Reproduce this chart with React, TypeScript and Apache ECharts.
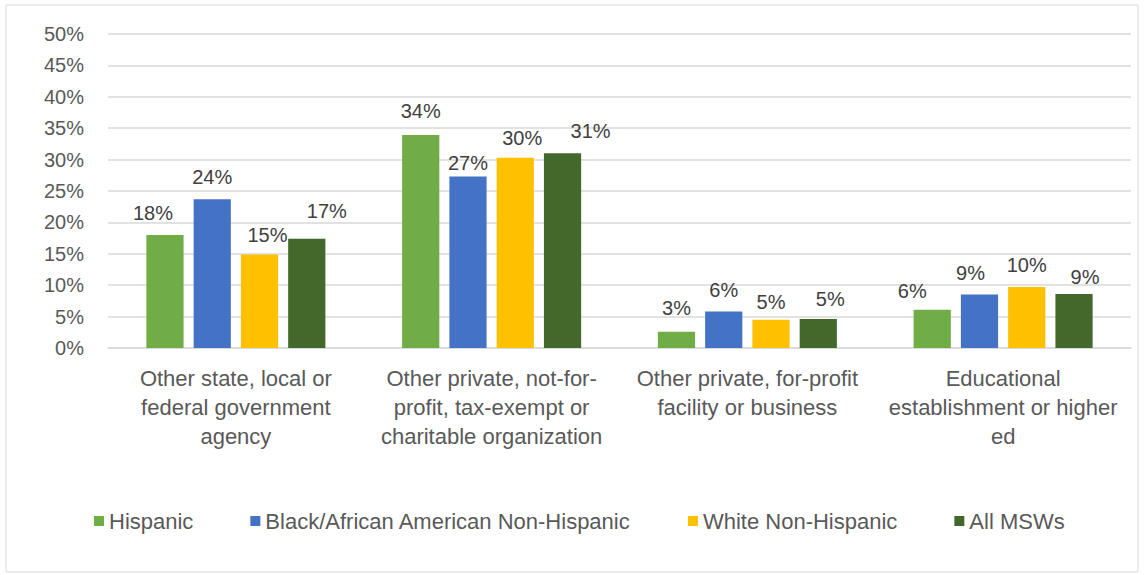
import React, { useEffect, useRef } from "react";
import * as echarts from "echarts";

const categories = [
  "Other state, local or\nfederal government\nagency",
  "Other private, not-for-\nprofit, tax-exempt or\ncharitable organization",
  "Other private, for-profit\nfacility or business",
  "Educational\nestablishment or higher\ned",
];
const seriesNames = [
  "Hispanic",
  "Black/African American Non-Hispanic",
  "White Non-Hispanic",
  "All MSWs",
];
const hispanic = [18.0, 33.9, 2.6, 6.1];
const black = [23.7, 27.3, 5.8, 8.5];
const white = [14.9, 30.3, 4.5, 9.7];
const allMsw = [17.4, 31.0, 4.6, 8.6];
const yTicks = [0, 5, 10, 15, 20, 25, 30, 35, 40, 45, 50];

const colors = ["#70AD47", "#4472C4", "#FFC000", "#43682B"];
// label nudges [dx, dy] per series per category (styling only)
const labelNudges: number[][][] = [
  [[-12, 0], [0, -2], [0, -2], [-20, 3]],
  [[0, 0], [0, 8], [0, 0], [-9, 0]],
  [[8, 3], [7, 2], [0, 4], [0, 0]],
  [[20, -6], [28, 0], [12, 2], [11, 5]],
];

const FONT = "'Liberation Sans', Arial, sans-serif";

export default function App() {
  const ref = useRef<HTMLDivElement>(null);
  useEffect(() => {
    document.body.style.margin = "0";
    if (!ref.current) return;
    const chart = echarts.init(ref.current, undefined, { renderer: "svg" });
    const data = [hispanic, black, white, allMsw];
    chart.setOption({
      animation: false,
      textStyle: { fontFamily: FONT },
      graphic: [
        {
          type: "rect",
          shape: { x: 6, y: 5, width: 1132, height: 567 },
          style: { fill: "none", stroke: "#d9d9d9", lineWidth: 1 },
          silent: true,
        },
      ],
      legend: {
        data: seriesNames,
        bottom: 38,
        left: 89,
        itemWidth: 10,
        itemHeight: 10,
        itemGap: 57,
        icon: "rect",
        textStyle: { fontSize: 22, color: "#595959", fontFamily: FONT },
      },
      grid: { left: 108, right: 13, top: 34, bottom: 227 },
      xAxis: {
        type: "category",
        data: categories,
        axisLine: { lineStyle: { color: "#d9d9d9", width: 1.5 } },
        axisTick: { show: false },
        axisLabel: {
          fontSize: 22,
          color: "#595959",
          lineHeight: 29,
          margin: 16,
          interval: 0,
          fontFamily: FONT,
        },
      },
      yAxis: {
        type: "value",
        min: yTicks[0],
        max: yTicks[yTicks.length - 1],
        interval: 5,
        axisLine: { show: false },
        axisTick: { show: false },
        splitLine: { lineStyle: { color: "#d9d9d9", width: 1.5 } },
        axisLabel: {
          formatter: (v: number) => v + "%",
          fontSize: 20,
          color: "#595959",
          margin: 24,
          fontFamily: FONT,
        },
      },
      series: data.map((vals, si) => ({
        name: seriesNames[si],
        type: "bar",
        barGap: "27%",
        barCategoryGap: "30%",
        itemStyle: { color: colors[si] },
        data: vals.map((v, ci) => ({
          value: v,
          label: { offset: labelNudges[si][ci] },
        })),
        label: {
          show: true,
          position: "top",
          distance: 12,
          fontSize: 20,
          color: "#404040",
          fontFamily: FONT,
          formatter: (p: any) => Math.round(p.value) + "%",
        },
      })),
    });
    return () => chart.dispose();
  }, []);
  return <div ref={ref} style={{ width: 1144, height: 575 }} />;
}
